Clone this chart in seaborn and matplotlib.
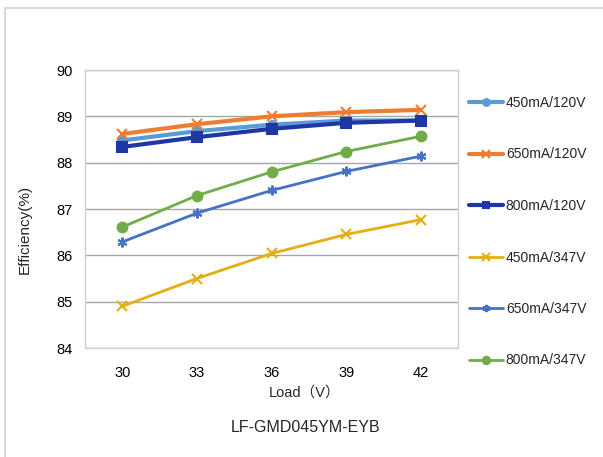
import pandas as pd
import matplotlib
matplotlib.use("Agg")
import matplotlib.pyplot as plt
from matplotlib.patches import Rectangle
import seaborn as sns

# data
loads = [30, 33, 36, 39, 42]
series_names = ["450mA/120V", "650mA/120V", "800mA/120V",
                "450mA/347V", "650mA/347V", "800mA/347V"]
eff_450_120 = [88.48, 88.68, 88.82, 88.91, 88.91]
eff_650_120 = [88.62, 88.83, 89.00, 89.09, 89.14]
eff_800_120 = [88.34, 88.55, 88.73, 88.86, 88.91]
eff_450_347 = [84.90, 85.50, 86.04, 86.45, 86.77]
eff_650_347 = [86.29, 86.91, 87.40, 87.81, 88.14]
eff_800_347 = [86.61, 87.29, 87.80, 88.24, 88.57]
y_ticks = [84, 85, 86, 87, 88, 89, 90]

colors = ["#5B9BD5", "#ED7D31", "#1F37A3", "#E5AE12", "#4472C4", "#70AD47"]
markers = ["o", "x", "s", "x", (6, 2, 0), "o"]
widths = [3, 3, 3, 2, 2, 2]
msizes = [6.5, 7, 6.5, 7, 7, 7]

values = [eff_450_120, eff_650_120, eff_800_120, eff_450_347, eff_650_347, eff_800_347]
df = pd.DataFrame({
    "load": loads * len(series_names),
    "eff": sum(values, []),
    "series": [s for s in series_names for _ in loads],
})

sns.set_style("white")
plt.rcParams["font.family"] = ["Liberation Sans", "Noto Sans CJK SC", "DejaVu Sans"]

fig = plt.figure(figsize=(6.03, 4.57), dpi=100)
ax = fig.add_axes([85 / 603, 1 - 348 / 457, 373 / 603, 278 / 457])

for name, c, m, lw, ms in zip(series_names, colors, markers, widths, msizes):
    sns.lineplot(data=df[df["series"] == name], x="load", y="eff", ax=ax,
                 color=c, marker=m, linewidth=lw, markersize=ms,
                 markeredgecolor=c, markeredgewidth=1.5, label=name)

ax.set_xlim(28.5, 43.5)
ax.set_ylim(84, 90)
ax.set_xticks(loads)
ax.set_yticks(y_ticks)
ax.tick_params(axis="x", length=0, labelsize=10.5, colors="#000000", pad=13)
ax.tick_params(axis="y", length=0, labelsize=10.5, colors="#000000", pad=9)
ax.yaxis.grid(True, color="#A6A6A6", linewidth=1)
ax.xaxis.grid(False)
for sp in ax.spines.values():
    sp.set_color("#D0D0D0")
    sp.set_linewidth(1)

ax.set_xlabel("Load（V）", fontsize=10.5, va="top")
ax.xaxis.set_label_coords((305 - 85) / 373, (348 - 386) / 278)
ax.set_ylabel("Efficiency(%)", fontsize=11, va="bottom")
ax.yaxis.set_label_coords((32 - 85) / 373, (348 - 229) / 278)

leg = ax.legend(loc="upper left", bbox_to_anchor=((469 - 85) / 373, (348 - 96) / 278),
                frameon=False, fontsize=10, handlelength=2.45, handletextpad=0.2,
                labelspacing=2.7, borderaxespad=0, borderpad=0, markerscale=0.75)

fig.text(306 / 603, 1 - 427 / 457, "LF-GMD045YM-EYB", ha="center", va="center",
         fontsize=11.5)

# outer chart frame
fig.patches.append(Rectangle((5 / 603, -0.05), 1.1, 1 - 8 / 457 + 0.05,
                             transform=fig.transFigure, fill=False,
                             edgecolor="#D9D9D9", linewidth=1.5))

fig.savefig("out.png", dpi=100)
